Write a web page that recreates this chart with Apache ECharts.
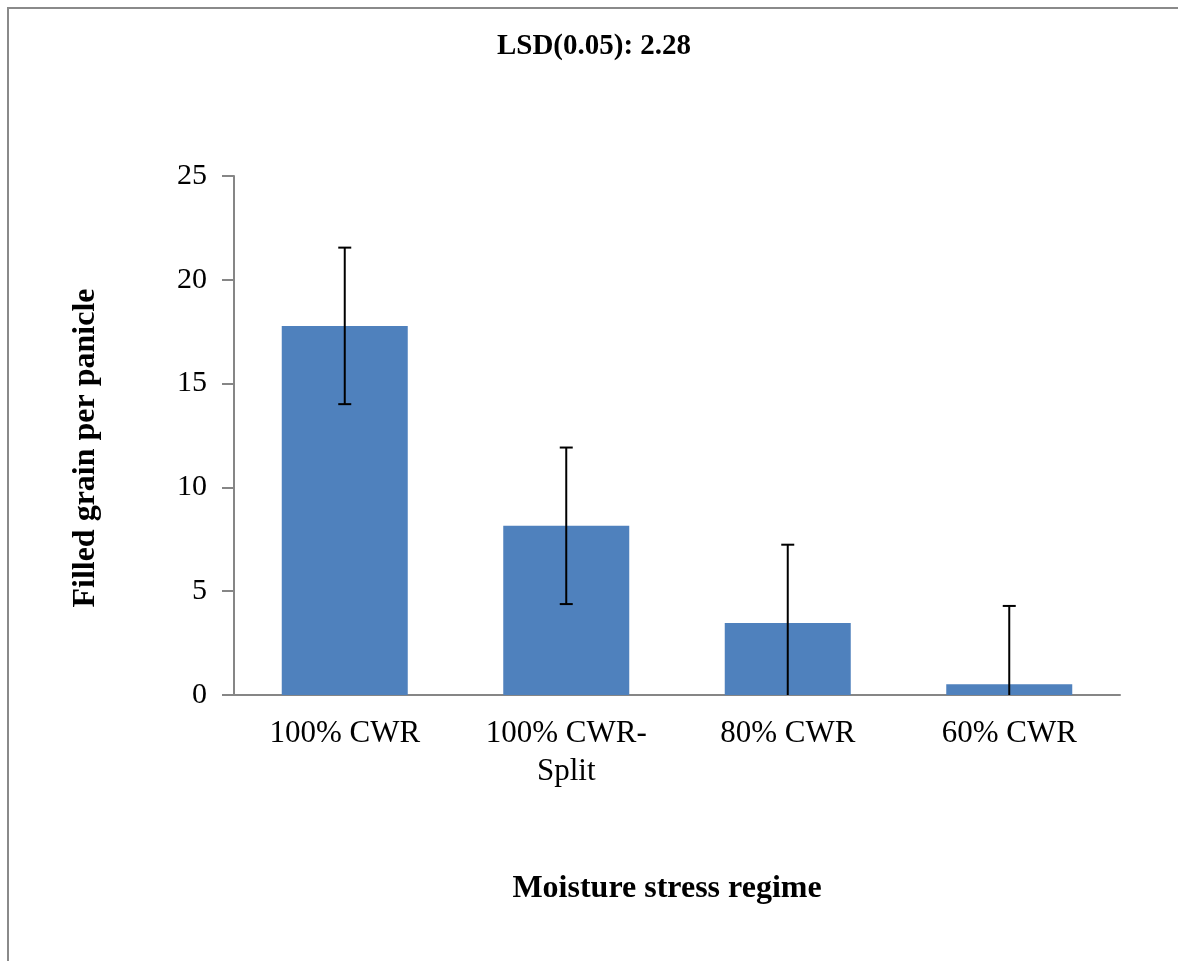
<!DOCTYPE html>
<html>
<head>
<meta charset="utf-8">
<style>
  html, body { margin: 0; padding: 0; background: #ffffff; }
  #chart { width: 1178px; height: 961px; }
</style>
<script src="https://cdn.jsdelivr.net/npm/echarts@6/dist/echarts.min.js"></script>
</head>
<body>
<div id="chart"></div>
<script>
// Filled grain per panicle under each moisture stress regime
const categories = ['100% CWR', '100% CWR-\nSplit', '80% CWR', '60% CWR'];
const filledGrain = [17.78, 8.15, 3.47, 0.52];
const errorMargin = [3.77, 3.77, 3.77, 3.77];
const yTicks = [0, 5, 10, 15, 20, 25];
const lsdText = 'LSD(0.05): 2.28';
const xTitle = 'Moisture stress regime';
const yTitle = 'Filled grain per panicle';

const serif = "'Liberation Serif', 'Times New Roman', serif";
const axisGray = '#868686';

const errorData = filledGrain.map((v, i) => [i, v, errorMargin[i]]);

const chart = echarts.init(document.getElementById('chart'), null, { renderer: 'canvas' });

chart.setOption({
  backgroundColor: '#ffffff',
  animation: false,
  grid: { left: 234, right: 58, top: 176, bottom: 266, containLabel: false },
  xAxis: {
    type: 'category',
    data: categories,
    boundaryGap: true,
    axisLine: { show: true, lineStyle: { color: axisGray, width: 2 } },
    axisTick: { show: false },
    axisLabel: {
      color: '#000',
      fontFamily: serif,
      fontSize: 31,
      lineHeight: 38,
      margin: 20,
      verticalAlign: 'top',
      interval: 0
    },
    splitLine: { show: false }
  },
  yAxis: {
    type: 'value',
    min: yTicks[0],
    max: yTicks[yTicks.length - 1],
    interval: yTicks[1] - yTicks[0],
    axisLine: { show: true, lineStyle: { color: axisGray, width: 2 } },
    axisTick: { show: true, length: 12, inside: false, lineStyle: { color: axisGray, width: 2 } },
    axisLabel: { color: '#000', fontFamily: serif, fontSize: 30, margin: 27 },
    splitLine: { show: false }
  },
  series: [
    {
      type: 'bar',
      data: filledGrain,
      barWidth: 126,
      itemStyle: { color: '#4F81BD' },
      z: 2
    },
    {
      type: 'custom',
      data: errorData,
      z: 5,
      renderItem: function (params, api) {
        const idx = api.value(0);
        const val = api.value(1);
        const err = api.value(2);
        const hi = val + err;
        const lowRaw = val - err;
        const lo = Math.max(0, lowRaw);
        const pHi = api.coord([idx, hi]);
        const pLo = api.coord([idx, lo]);
        const cap = 6.5;
        const style = { stroke: '#000', lineWidth: 2 };
        const children = [
          { type: 'line', shape: { x1: pHi[0], y1: pHi[1], x2: pLo[0], y2: pLo[1] }, style: style },
          { type: 'line', shape: { x1: pHi[0] - cap, y1: pHi[1], x2: pHi[0] + cap, y2: pHi[1] }, style: style }
        ];
        if (lowRaw >= 0) {
          children.push({ type: 'line', shape: { x1: pLo[0] - cap, y1: pLo[1], x2: pLo[0] + cap, y2: pLo[1] }, style: style });
        }
        return { type: 'group', children: children };
      }
    }
  ],
  graphic: [
    {
      type: 'polyline',
      shape: { points: [[8, 961], [8, 8], [1178, 8]] },
      style: { stroke: '#8a8a8a', lineWidth: 2, fill: null },
      silent: true
    },
    {
      type: 'text',
      x: 594, y: 47,
      style: { text: lsdText, font: 'bold 29px ' + serif, fill: '#000', textAlign: 'center', textVerticalAlign: 'middle' }
    },
    {
      type: 'text',
      x: 667, y: 889,
      style: { text: xTitle, font: 'bold 32px ' + serif, fill: '#000', textAlign: 'center', textVerticalAlign: 'middle' }
    },
    {
      type: 'text',
      x: 86, y: 448,
      rotation: Math.PI / 2,
      style: { text: yTitle, font: 'bold 32px ' + serif, fill: '#000', textAlign: 'center', textVerticalAlign: 'middle' }
    }
  ]
});
</script>
</body>
</html>
